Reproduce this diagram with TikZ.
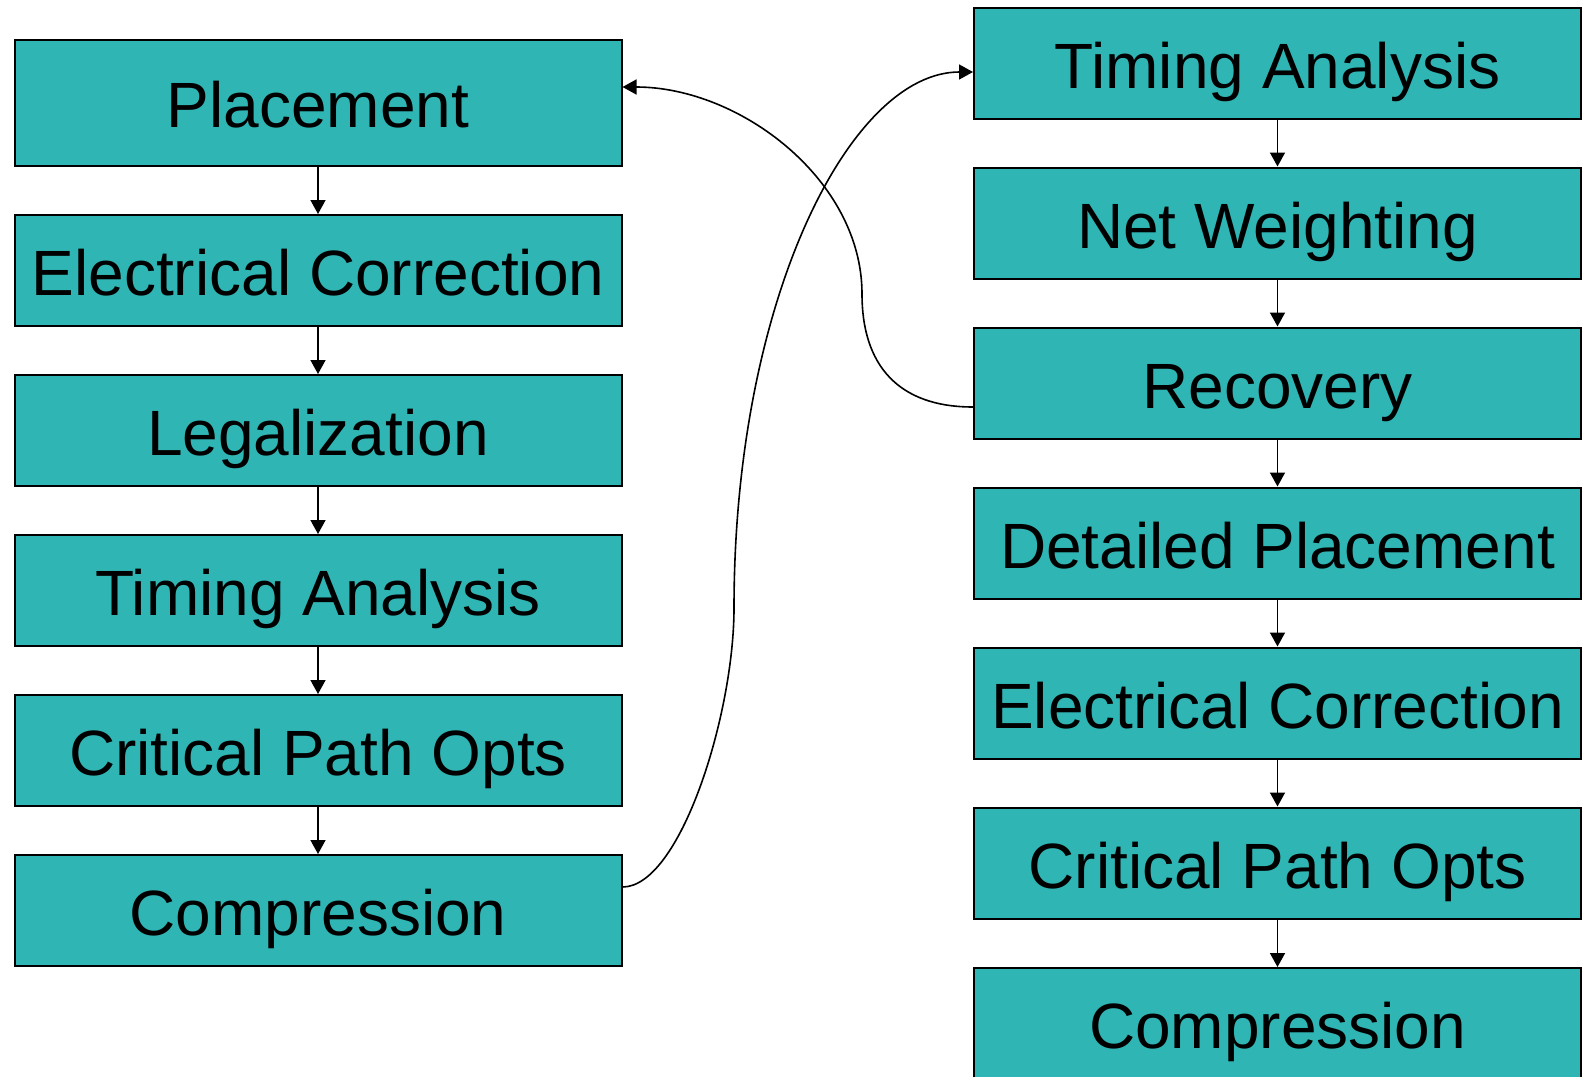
\documentclass[tikz,border=0pt]{standalone}
\usepackage{fontspec}
\setmainfont{Liberation Sans}
\usetikzlibrary{arrows.meta}
\definecolor{boxteal}{RGB}{47,181,180}
\tikzset{
  stage/.style={draw=black, line width=2pt, fill=boxteal, rectangle,
    minimum width=607pt, minimum height=111pt, inner sep=0pt,
    font=\fontsize{64}{76}\selectfont, text height=50pt, text depth=0pt},
  flow/.style={line width=1.6pt, -{Triangle[length=14pt,width=15pt]}},
  link/.style={line width=1.6pt, -{Triangle[length=14pt,width=15pt]}}
}
\begin{document}
\begin{tikzpicture}[x=1pt, y=-1pt]
\useasboundingbox (0,0) rectangle (1589,1076);
\clip (0,0) rectangle (1589,1076);

% left flow
\node[stage, minimum height=126.5pt] (l1) at (318,102.75) {Placement};
\node[stage] (l2) at (318,270.5) {Electrical Correction};
\node[stage] (l3) at (318,430.5) {Legalization};
\node[stage] (l4) at (318,590.5) {Timing Analysis};
\node[stage] (l5) at (318,750.5) {Critical Path Opts};
\node[stage] (l6) at (318,910.5) {Compression};

% right flow
\node[stage] (r1) at (1277.5,63) {Timing Analysis};
\node[stage] (r2) at (1277.5,223) {Net Weighting};
\node[stage] (r3) at (1277.5,383) {Recovery};
\node[stage] (r4) at (1277.5,543) {Detailed Placement};
\node[stage] (r5) at (1277.5,703) {Electrical Correction};
\node[stage] (r6) at (1277.5,863) {Critical Path Opts};
\node[stage] (r7) at (1277.5,1023.5) {Compression};

% vertical steps
\foreach \a/\b in {l1/l2,l2/l3,l3/l4,l4/l5,l5/l6,r1/r2,r2/r3,r3/r4,r4/r5,r5/r6,r6/r7}
  \draw[flow] (\a.south) -- (\b.north);

% turning points of the two long connectors
\coordinate (m1) at (734,608);
\coordinate (m2) at (862,294);

% compression -> timing analysis
\draw[link] ([yshift=23.5pt]l6.east) .. controls (680,887) and (734,715) .. (m1)
  .. controls (734,300) and (850,72) .. ([yshift=-9pt]r1.west);

% recovery -> placement
\draw[link] ([yshift=-24pt]r3.west) .. controls (898,407) and (862,365) .. (m2)
  .. controls (862,180) and (740,87) .. ([yshift=15.75pt]l1.east);
\end{tikzpicture}
\end{document}
